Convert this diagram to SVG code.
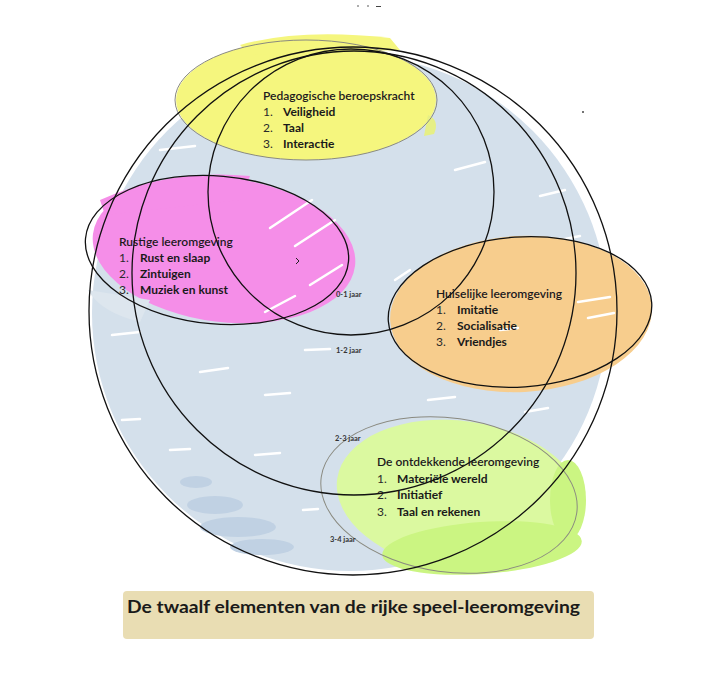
<svg xmlns="http://www.w3.org/2000/svg" width="726" height="683" viewBox="0 0 726 683">
<style>
.ring{fill:none;stroke:#111;stroke-width:1.3}
.gray{fill:none;stroke:#8a8a80;stroke-width:1}
.blk{fill:none;stroke:#111;stroke-width:1.3}
.streak{stroke:#fff;stroke-linecap:round;fill:none}
.h{font-family:Lato,"Liberation Sans",sans-serif;font-size:12px;font-weight:600;fill:#1d1a1d}
.n{font-family:Lato,"Liberation Sans",sans-serif;font-size:12px;font-weight:400;fill:#2a2a2a}
.i{font-family:Lato,"Liberation Sans",sans-serif;font-size:12px;font-weight:700;fill:#1a1a1a}
.age{font-family:Lato,"Liberation Sans",sans-serif;font-size:7.5px;font-weight:700;fill:#333}
.title{font-family:Lato,"Liberation Sans",sans-serif;font-size:16.5px;font-weight:700;fill:#1a1a1a}
</style>
<rect width="726" height="683" fill="#fff"/>

<g id="background">
  <circle cx="350" cy="313" r="258" fill="#d4e0eb"/>
  <path d="M600 300 Q612 330 608 380 Q600 430 590 440 L617 440 L625 300 Z" fill="#fff"/>
  <g fill="#c0d1e3">
    <ellipse cx="215" cy="505" rx="28" ry="9"/>
    <ellipse cx="238" cy="527" rx="38" ry="10"/>
    <ellipse cx="262" cy="547" rx="32" ry="8"/>
    <ellipse cx="196" cy="482" rx="16" ry="6"/>
  </g>
  <g class="streak" stroke-width="2.5">
    <path d="M160 150 L195 146"/>
    <path d="M455 170 L485 162"/>
    <path d="M540 196 L565 190"/>
    <path d="M112 335 L140 332"/>
    <path d="M200 372 L228 368"/>
    <path d="M265 395 L290 393"/>
    <path d="M122 420 L140 419"/>
    <path d="M255 455 L280 453"/>
    <path d="M428 400 L455 397"/>
    <path d="M525 412 L548 408"/>
    <path d="M303 510 L318 509"/>
    <path d="M305 350 L330 349"/>
    <path d="M560 240 L580 236"/>
    <path d="M170 450 L190 449"/>
  </g>
</g>

<g id="node-pedagogisch">
  <ellipse cx="306" cy="100" rx="130" ry="60" fill="#f5f67e"/>
  <path d="M240 45 Q300 28 390 38 L400 50 L250 55 Z" fill="#f5f67e"/>
  <path d="M428 115 Q440 120 434 134 L424 136 Z" fill="#e6ef86"/>
  <ellipse cx="306" cy="100" rx="131" ry="60" class="gray"/>
  <text class="h" x="263" y="100">Pedagogische beroepskracht</text>
  <text class="n" x="263" y="116">1.</text><text class="i" x="283" y="116">Veiligheid</text>
  <text class="n" x="263" y="132">2.</text><text class="i" x="283" y="132">Taal</text>
  <text class="n" x="263" y="148">3.</text><text class="i" x="283" y="148">Interactie</text>
</g>

<g id="node-rustig">
  <ellipse cx="224" cy="250" rx="132" ry="72" transform="rotate(7 224 250)" fill="#f58ee8"/>
  <path d="M100 200 Q170 168 250 176 L240 200 L105 215 Z" fill="#f58ee8"/>
  <path d="M88 290 Q100 312 140 322 L150 300 Z" fill="#dde6ee"/>
  <g class="streak" stroke-width="2.5">
    <path d="M270 228 L312 200"/>
    <path d="M295 246 L335 220"/>
    <path d="M310 285 L342 265"/>
    <path d="M265 312 L295 296"/>
  </g>
  <ellipse cx="217" cy="250" rx="132" ry="74" transform="rotate(5 217 250)" class="blk"/>
  <text class="h" x="119" y="246">Rustige leeromgeving</text>
  <text class="n" x="119" y="262">1.</text><text class="i" x="140" y="262">Rust en slaap</text>
  <text class="n" x="119" y="278">2.</text><text class="i" x="140" y="278">Zintuigen</text>
  <text class="n" x="119" y="294">3.</text><text class="i" x="140" y="294">Muziek en kunst</text>
  <path d="M296 258 L299 261 L296 264" fill="none" stroke="#222" stroke-width="1"/>
</g>

<g id="node-huiselijk">
  <ellipse cx="521" cy="314" rx="131" ry="78" transform="rotate(-3 521 314)" fill="#f7cd8d"/>
  <g class="streak" stroke-width="2.5">
    <path d="M395 280 L410 270"/>
    <path d="M578 302 L610 297"/>
    <path d="M588 318 L614 313"/>
    <path d="M500 330 L518 328"/>
  </g>
  <ellipse cx="520" cy="312" rx="132" ry="75" transform="rotate(-4 520 312)" class="blk"/>
  <text class="h" x="436" y="298">Huiselijke leeromgeving</text>
  <text class="n" x="436" y="314">1.</text><text class="i" x="457" y="314">Imitatie</text>
  <text class="n" x="436" y="330">2.</text><text class="i" x="457" y="330">Socialisatie</text>
  <text class="n" x="436" y="346">3.</text><text class="i" x="457" y="346">Vriendjes</text>
</g>

<g id="node-ontdekkend">
  <ellipse cx="460" cy="496" rx="124" ry="75" transform="rotate(8 460 496)" fill="#dbf9a0"/>
  <ellipse cx="482" cy="548" rx="100" ry="26" transform="rotate(-4 482 548)" fill="#cbf582"/>
  <ellipse cx="568" cy="500" rx="18" ry="40" fill="#cbf582"/>
  <ellipse cx="449" cy="495" rx="129" ry="77" transform="rotate(8 449 495)" class="gray"/>
  <text class="h" x="377" y="466">De ontdekkende leeromgeving</text>
  <text class="n" x="377" y="483">1.</text><text class="i" x="397" y="483">Materiële wereld</text>
  <text class="n" x="377" y="499">2.</text><text class="i" x="397" y="499">Initiatief</text>
  <text class="n" x="377" y="516">3.</text><text class="i" x="397" y="516">Taal en rekenen</text>
</g>

<g id="rings">
  <circle class="ring" cx="351" cy="192" r="143"/>
  <circle class="ring" cx="354" cy="273" r="222"/>
  <circle class="ring" cx="353" cy="311" r="264"/>
</g>

<g id="age-labels">
  <text class="age" x="336" y="297">0-1 jaar</text>
  <text class="age" x="336" y="353">1-2 jaar</text>
  <text class="age" x="335" y="441">2-3 jaar</text>
  <text class="age" x="330" y="542">3-4 jaar</text>
</g>

<g id="specks" fill="#444">
  <circle cx="583" cy="112" r="1"/>
  <circle cx="358" cy="6" r="0.8"/>
  <circle cx="368" cy="6" r="0.8"/>
  <rect x="376" y="6" width="5" height="1"/>
</g>

<g id="title">
  <rect x="123" y="591" width="471" height="48" rx="4" fill="#e9ddb3"/>
  <text class="title" x="127" y="613" textLength="453" lengthAdjust="spacingAndGlyphs">De twaalf elementen van de rijke speel-leeromgeving</text>
</g>
</svg>
